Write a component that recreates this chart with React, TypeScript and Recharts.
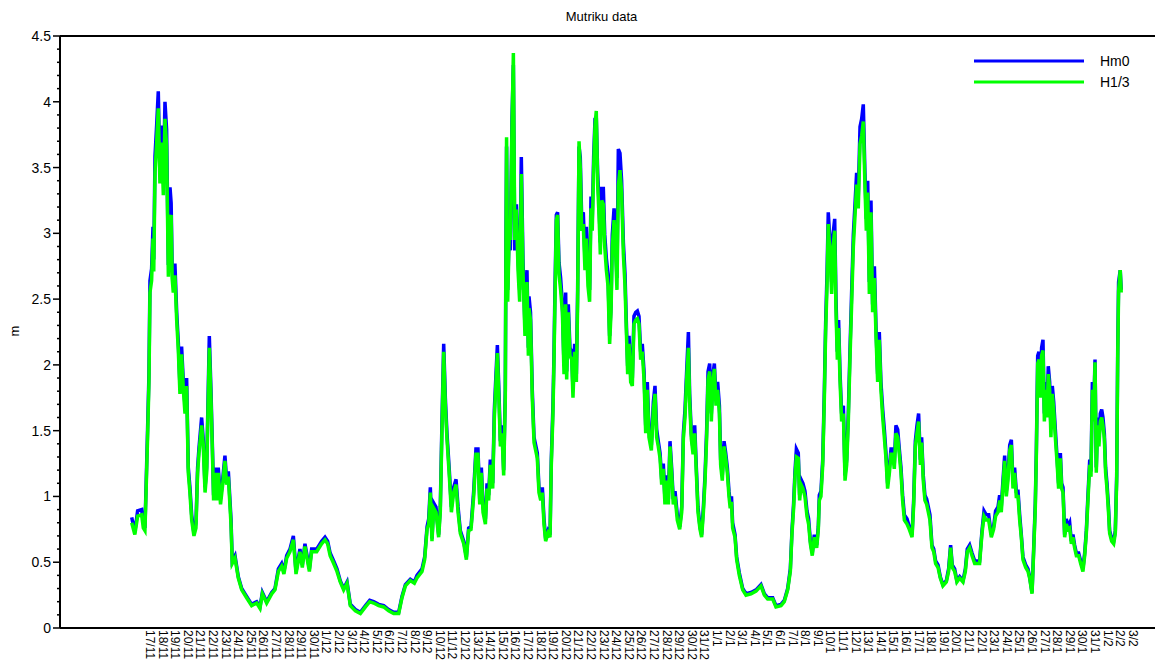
import React from 'react';
import { LineChart, Line, XAxis, YAxis, Legend, ReferenceLine } from 'recharts';

// Day labels (day index 0 = 17/11)
const DATE_LABELS = [
  '17/11', '18/11', '19/11', '20/11', '21/11', '22/11', '23/11', '24/11', '25/11', '26/11',
  '27/11', '28/11', '29/11', '30/11',
  '1/12', '2/12', '3/12', '4/12', '5/12', '6/12', '7/12', '8/12', '9/12', '10/12',
  '11/12', '12/12', '13/12', '14/12', '15/12', '16/12', '17/12', '18/12', '19/12', '20/12',
  '21/12', '22/12', '23/12', '24/12', '25/12', '26/12', '27/12', '28/12', '29/12', '30/12', '31/12',
  '1/1', '2/1', '3/1', '4/1', '5/1', '6/1', '7/1', '8/1', '9/1', '10/1',
  '11/1', '12/1', '13/1', '14/1', '15/1', '16/1', '17/1', '18/1', '19/1', '20/1',
  '21/1', '22/1', '23/1', '24/1', '25/1', '26/1', '27/1', '28/1', '29/1', '30/1', '31/1',
  '1/2', '2/2', '3/2',
];

// Sample times in days since 17/11 00:00
const TIME_DAYS = [
  -1.45, -1.2, -0.98, -0.66, -0.53, -0.4, -0.32, -0.19, -0.08, 0,
  0.13, 0.24, 0.3, 0.4, 0.53, 0.66, 0.79, 0.93, 1.06, 1.19,
  1.32, 1.46, 1.59, 1.68, 1.76, 1.85, 1.98, 2.12, 2.25, 2.38,
  2.51, 2.65, 2.78, 2.91, 3.04, 3.17, 3.31, 3.49, 3.65, 3.78,
  3.89, 4.1, 4.23, 4.37, 4.5, 4.71, 4.84, 4.95, 5.05, 5.16,
  5.29, 5.42, 5.6, 5.77, 5.95, 6.08, 6.22, 6.43, 6.53, 6.75,
  7.01, 7.28, 7.67, 8.07, 8.47, 8.73, 8.92, 9.26, 9.66, 9.92,
  10.19, 10.45, 10.63, 10.85, 11.11, 11.38, 11.59, 11.9, 12.09, 12.3,
  12.65, 12.83, 13.23, 13.62, 13.89, 14.1, 14.3, 14.58, 14.84, 15.1,
  15.37, 15.64, 15.9, 16.3, 16.7, 17.1, 17.44, 17.75, 18.15, 18.55,
  18.94, 19.34, 19.74, 20.0, 20.27, 20.66, 20.98, 21.19, 21.59, 21.8,
  21.99, 22.12, 22.25, 22.38, 22.52, 22.7, 22.91, 23.04, 23.18, 23.31,
  23.44, 23.57, 23.76, 23.92, 24.1, 24.29, 24.45, 24.63, 24.9, 25.11,
  25.29, 25.48, 25.69, 25.87, 26.03, 26.17, 26.3, 26.43, 26.62, 26.75,
  26.88, 27.01, 27.2, 27.33, 27.46, 27.57, 27.7, 27.81, 27.94, 28.07,
  28.2, 28.25, 28.3, 28.39, 28.52, 28.6, 28.73, 28.84, 28.95, 29.08,
  29.21, 29.34, 29.47, 29.6, 29.76, 29.92, 30.03, 30.08, 30.2, 30.34,
  30.48, 30.61, 30.74, 30.87, 31.01, 31.14, 31.27, 31.4, 31.59, 31.75,
  31.85, 31.98, 32.06, 32.14, 32.25, 32.35, 32.46, 32.59, 32.73, 32.86,
  32.99, 33.07, 33.2, 33.33, 33.47, 33.57, 33.7, 33.84, 33.94, 34.05,
  34.15, 34.26, 34.39, 34.52, 34.63, 34.76, 34.89, 35.0, 35.1, 35.21,
  35.32, 35.42, 35.53, 35.64, 35.74, 35.85, 35.98, 36.09, 36.22, 36.35,
  36.48, 36.59, 36.69, 36.83, 36.96, 37.06, 37.17, 37.3, 37.43, 37.57,
  37.7, 37.8, 37.91, 38.02, 38.15, 38.28, 38.41, 38.55, 38.68, 38.81,
  38.94, 39.07, 39.21, 39.34, 39.47, 39.6, 39.79, 39.95, 40.08, 40.21,
  40.34, 40.48, 40.61, 40.74, 40.87, 41.0, 41.14, 41.27, 41.4, 41.53,
  41.67, 41.85, 42.04, 42.2, 42.33, 42.46, 42.59, 42.73, 42.83, 42.96,
  43.1, 43.23, 43.36, 43.49, 43.65, 43.78, 43.92, 44.05, 44.18, 44.29,
  44.42, 44.55, 44.68, 44.79, 44.92, 45.05, 45.19, 45.29, 45.42, 45.56,
  45.69, 45.82, 45.95, 46.05, 46.15, 46.24, 46.43, 46.56, 46.77, 47.04,
  47.3, 47.7, 48.1, 48.49, 48.76, 49.02, 49.42, 49.68, 50.08, 50.34,
  50.61, 50.82, 50.95, 51.08, 51.19, 51.3, 51.45, 51.56, 51.67, 51.82,
  51.98, 52.14, 52.27, 52.41, 52.56, 52.72, 52.91, 53.04, 53.12, 53.25,
  53.39, 53.52, 53.62, 53.73, 53.83, 53.97, 54.1, 54.21, 54.34, 54.44,
  54.55, 54.65, 54.76, 54.89, 55.03, 55.16, 55.29, 55.42, 55.55, 55.69,
  55.82, 55.95, 56.08, 56.21, 56.35, 56.48, 56.61, 56.74, 56.85, 56.96,
  57.09, 57.22, 57.35, 57.49, 57.62, 57.75, 57.88, 58.01, 58.15, 58.28,
  58.41, 58.54, 58.68, 58.81, 58.94, 59.07, 59.2, 59.34, 59.47, 59.6,
  59.73, 59.87, 60.08, 60.26, 60.48, 60.61, 60.74, 60.87, 61.0, 61.14,
  61.24, 61.37, 61.5, 61.64, 61.77, 61.9, 62.06, 62.2, 62.35, 62.54,
  62.72, 62.93, 63.2, 63.38, 63.54, 63.67, 63.86, 64.04, 64.26, 64.52,
  64.71, 64.86, 65.05, 65.24, 65.45, 65.66, 65.84, 66.03, 66.19, 66.37,
  66.56, 66.77, 66.95, 67.11, 67.3, 67.43, 67.56, 67.7, 67.83, 67.96,
  68.09, 68.23, 68.36, 68.49, 68.62, 68.75, 68.89, 69.02, 69.15, 69.28,
  69.5, 69.68, 69.81, 70.0, 70.13, 70.26, 70.34, 70.45, 70.55, 70.66,
  70.76, 70.87, 70.98, 71.08, 71.19, 71.29, 71.4, 71.5, 71.61, 71.72,
  71.85, 71.98, 72.11, 72.25, 72.35, 72.46, 72.59, 72.72, 72.85, 72.99,
  73.12, 73.25, 73.38, 73.52, 73.7, 73.86, 74.04, 74.18, 74.31, 74.44,
  74.58, 74.68, 74.79, 74.89, 75.0, 75.1, 75.21, 75.31, 75.42, 75.53,
  75.63, 75.74, 75.84, 75.95, 76.07, 76.16, 76.32, 76.48, 76.61, 76.72,
  76.8, 76.87, 77.0, 77.08,
];

// Hm0 (m)
const HM0 = [
  0.84, 0.73, 0.89, 0.90, 0.80, 0.76, 1.04, 1.51, 1.93, 2.64,
  2.73, 3.05, 2.80, 3.59, 3.82, 4.08, 3.47, 3.82, 3.38, 4.00,
  3.79, 2.76, 3.35, 3.23, 2.75, 2.64, 2.77, 2.40, 2.17, 1.84,
  2.14, 1.87, 1.69, 1.90, 1.22, 1.07, 0.86, 0.72, 0.80, 1.22,
  1.37, 1.60, 1.43, 1.07, 1.22, 2.22, 1.81, 1.40, 1.01, 1.22,
  1.01, 1.22, 0.98, 1.13, 1.31, 1.13, 1.19, 0.83, 0.51, 0.55,
  0.39, 0.30, 0.24, 0.18, 0.20, 0.16, 0.27, 0.20, 0.27, 0.30,
  0.45, 0.49, 0.43, 0.55, 0.60, 0.70, 0.43, 0.60, 0.48, 0.64,
  0.45, 0.60, 0.60, 0.66, 0.69, 0.66, 0.57, 0.51, 0.45, 0.36,
  0.30, 0.35, 0.18, 0.14, 0.12, 0.17, 0.21, 0.20, 0.18, 0.17,
  0.14, 0.12, 0.12, 0.24, 0.33, 0.37, 0.35, 0.40, 0.45, 0.54,
  0.77, 0.83, 1.07, 0.68, 0.95, 0.92, 0.71, 0.92, 1.60, 2.16,
  1.75, 1.48, 1.19, 0.92, 1.07, 1.13, 0.92, 0.74, 0.66, 0.54,
  0.76, 0.77, 1.04, 1.36, 1.36, 0.98, 1.22, 0.92, 0.83, 1.10,
  1.01, 1.28, 1.10, 1.66, 1.93, 2.15, 1.78, 1.42, 1.54, 1.20,
  1.81, 2.93, 3.66, 2.57, 3.08, 2.87, 3.87, 4.28, 2.87, 3.22,
  2.81, 2.57, 3.58, 2.81, 2.28, 2.72, 2.13, 2.52, 2.40, 1.81,
  1.45, 1.39, 1.33, 1.07, 1.01, 1.07, 0.83, 0.68, 0.74, 0.71,
  1.28, 1.69, 2.07, 2.57, 3.14, 3.16, 2.78, 2.66, 2.46, 1.99,
  2.55, 1.95, 2.46, 2.13, 2.10, 1.81, 2.16, 1.93, 2.57, 3.66,
  3.58, 3.11, 3.16, 2.81, 3.05, 2.69, 2.57, 3.28, 3.11, 3.58,
  3.87, 3.88, 3.46, 3.22, 2.93, 3.34, 3.34, 2.99, 2.81, 2.69,
  2.22, 2.46, 2.99, 3.19, 2.93, 2.66, 3.64, 3.61, 3.40, 2.93,
  2.69, 2.34, 1.99, 2.22, 1.93, 1.90, 2.37, 2.40, 2.41, 2.37,
  2.10, 2.16, 1.95, 1.54, 1.87, 1.51, 1.39, 1.72, 1.84, 1.51,
  1.42, 1.33, 1.13, 1.25, 0.98, 1.16, 0.98, 1.42, 1.22, 0.98,
  1.04, 0.86, 0.77, 0.92, 1.48, 1.66, 1.95, 2.25, 1.78, 1.48,
  1.36, 1.54, 1.22, 0.92, 0.77, 0.71, 0.92, 1.16, 1.51, 1.95,
  2.01, 1.63, 1.93, 2.01, 1.75, 1.87, 1.69, 1.28, 1.16, 1.42,
  1.33, 1.22, 1.04, 0.95, 1.00, 0.80, 0.71, 0.54, 0.42, 0.30,
  0.26, 0.27, 0.29, 0.33, 0.26, 0.23, 0.23, 0.17, 0.18, 0.21,
  0.30, 0.45, 0.74, 0.95, 1.19, 1.36, 1.33, 1.01, 1.13, 1.10,
  1.04, 0.89, 0.83, 0.66, 0.57, 0.71, 0.63, 0.77, 1.01, 1.04,
  1.28, 1.81, 2.31, 2.69, 3.16, 2.93, 2.63, 2.99, 3.11, 2.52,
  2.10, 2.34, 1.95, 1.63, 1.69, 1.16, 1.28, 1.63, 2.10, 2.57,
  2.99, 3.22, 3.46, 3.28, 3.81, 3.87, 3.98, 3.46, 3.11, 3.40,
  2.63, 3.25, 2.46, 2.75, 2.28, 1.93, 2.25, 1.87, 1.66, 1.51,
  1.33, 1.10, 1.22, 1.36, 1.36, 1.25, 1.54, 1.51, 1.36, 1.22,
  1.01, 0.86, 0.83, 0.77, 0.71, 0.98, 1.42, 1.54, 1.63, 1.28,
  1.45, 1.16, 1.01, 0.98, 0.92, 0.86, 0.63, 0.60, 0.51, 0.48,
  0.39, 0.33, 0.36, 0.45, 0.63, 0.48, 0.45, 0.36, 0.39, 0.36,
  0.45, 0.60, 0.63, 0.57, 0.51, 0.51, 0.51, 0.74, 0.89, 0.86,
  0.86, 0.71, 0.77, 0.89, 0.92, 1.01, 0.92, 1.13, 1.31, 1.04,
  1.16, 1.39, 1.43, 1.10, 1.22, 1.04, 1.04, 0.86, 0.71, 0.54,
  0.48, 0.45, 0.39, 0.27, 0.60, 0.95, 1.33, 2.07, 2.10, 1.81,
  2.13, 2.19, 1.63, 1.87, 1.66, 1.99, 1.87, 1.51, 1.84, 1.72,
  1.51, 1.31, 1.10, 1.33, 1.10, 1.07, 0.71, 0.83, 0.77, 0.80,
  0.66, 0.71, 0.63, 0.57, 0.57, 0.51, 0.45, 0.57, 0.74, 1.01,
  1.28, 1.19, 1.87, 1.63, 2.04, 1.22, 1.60, 1.42, 1.63, 1.66,
  1.60, 1.48, 1.22, 1.10, 0.92, 0.74, 0.68, 0.66, 0.74, 1.16,
  2.10, 2.63, 2.72, 2.57,
];

// H1/3 (m)
const H13 = [
  0.80, 0.71, 0.85, 0.86, 0.76, 0.74, 1.00, 1.45, 1.87, 2.55,
  2.64, 2.96, 2.71, 3.46, 3.69, 3.95, 3.38, 3.69, 3.29, 3.87,
  3.66, 2.67, 3.10, 3.14, 2.66, 2.55, 2.68, 2.34, 2.11, 1.78,
  2.08, 1.81, 1.63, 1.84, 1.18, 1.03, 0.82, 0.70, 0.76, 1.18,
  1.33, 1.54, 1.39, 1.03, 1.18, 2.13, 1.75, 1.36, 0.97, 1.18,
  0.97, 1.18, 0.94, 1.09, 1.27, 1.09, 1.15, 0.79, 0.49, 0.53,
  0.38, 0.29, 0.23, 0.17, 0.19, 0.15, 0.26, 0.19, 0.26, 0.29,
  0.43, 0.47, 0.41, 0.53, 0.58, 0.67, 0.41, 0.58, 0.46, 0.62,
  0.43, 0.58, 0.58, 0.64, 0.67, 0.64, 0.55, 0.49, 0.43, 0.35,
  0.29, 0.34, 0.17, 0.13, 0.11, 0.16, 0.20, 0.19, 0.17, 0.16,
  0.13, 0.11, 0.11, 0.23, 0.32, 0.36, 0.34, 0.38, 0.43, 0.52,
  0.75, 0.79, 1.03, 0.66, 0.91, 0.88, 0.69, 0.88, 1.54, 2.10,
  1.69, 1.44, 1.15, 0.88, 1.03, 1.09, 0.88, 0.72, 0.64, 0.52,
  0.74, 0.75, 1.00, 1.32, 1.32, 0.94, 1.18, 0.88, 0.79, 1.06,
  0.97, 1.24, 1.06, 1.60, 1.87, 2.09, 1.72, 1.38, 1.48, 1.16,
  1.75, 2.84, 3.73, 2.48, 3.05, 2.95, 3.80, 4.37, 2.95, 3.18,
  2.72, 2.48, 3.45, 2.72, 2.22, 2.63, 2.07, 2.43, 2.34, 1.75,
  1.41, 1.35, 1.29, 1.03, 0.97, 1.03, 0.79, 0.66, 0.72, 0.69,
  1.24, 1.63, 2.01, 2.48, 3.10, 3.14, 2.69, 2.57, 2.40, 1.93,
  2.46, 1.89, 2.40, 2.07, 2.04, 1.75, 2.10, 1.87, 2.48, 3.70,
  3.50, 3.02, 3.07, 2.72, 2.96, 2.60, 2.48, 3.19, 3.02, 3.50,
  3.82, 3.93, 3.37, 3.13, 2.84, 3.25, 3.22, 2.90, 2.72, 2.60,
  2.16, 2.40, 2.90, 3.10, 2.84, 2.57, 3.36, 3.48, 3.31, 2.84,
  2.60, 2.28, 1.93, 2.16, 1.87, 1.84, 2.31, 2.34, 2.35, 2.31,
  2.04, 2.10, 1.89, 1.48, 1.81, 1.45, 1.35, 1.66, 1.78, 1.45,
  1.38, 1.29, 1.09, 1.21, 0.94, 1.12, 0.94, 1.38, 1.18, 0.94,
  1.00, 0.82, 0.75, 0.88, 1.44, 1.60, 1.89, 2.13, 1.72, 1.44,
  1.32, 1.48, 1.18, 0.88, 0.75, 0.69, 0.88, 1.12, 1.45, 1.89,
  1.95, 1.57, 1.87, 1.97, 1.69, 1.81, 1.63, 1.24, 1.12, 1.38,
  1.29, 1.18, 1.00, 0.91, 0.96, 0.76, 0.69, 0.52, 0.40, 0.29,
  0.25, 0.26, 0.28, 0.32, 0.25, 0.22, 0.22, 0.16, 0.17, 0.20,
  0.29, 0.43, 0.72, 0.91, 1.15, 1.30, 1.29, 0.97, 1.09, 1.06,
  1.00, 0.85, 0.79, 0.64, 0.55, 0.69, 0.61, 0.75, 0.97, 1.00,
  1.24, 1.75, 2.25, 2.60, 3.07, 2.84, 2.54, 2.90, 3.02, 2.43,
  2.04, 2.28, 1.89, 1.57, 1.63, 1.12, 1.24, 1.57, 2.04, 2.48,
  2.90, 3.13, 3.37, 3.19, 3.68, 3.74, 3.85, 3.37, 3.02, 3.31,
  2.54, 3.16, 2.40, 2.66, 2.22, 1.87, 2.19, 1.81, 1.60, 1.45,
  1.29, 1.06, 1.18, 1.32, 1.32, 1.21, 1.48, 1.45, 1.32, 1.18,
  0.97, 0.82, 0.79, 0.75, 0.69, 0.94, 1.38, 1.48, 1.57, 1.24,
  1.41, 1.12, 0.97, 0.94, 0.88, 0.82, 0.61, 0.58, 0.49, 0.46,
  0.38, 0.32, 0.35, 0.43, 0.61, 0.46, 0.43, 0.35, 0.38, 0.35,
  0.43, 0.58, 0.61, 0.55, 0.49, 0.49, 0.49, 0.72, 0.85, 0.82,
  0.82, 0.69, 0.75, 0.85, 0.88, 0.97, 0.88, 1.09, 1.27, 1.00,
  1.12, 1.35, 1.39, 1.06, 1.18, 1.00, 1.00, 0.82, 0.69, 0.52,
  0.46, 0.43, 0.38, 0.26, 0.58, 0.91, 1.29, 2.01, 2.04, 1.75,
  2.07, 2.11, 1.57, 1.81, 1.60, 1.93, 1.81, 1.45, 1.78, 1.66,
  1.45, 1.27, 1.06, 1.29, 1.06, 1.03, 0.69, 0.79, 0.75, 0.76,
  0.64, 0.69, 0.61, 0.55, 0.55, 0.49, 0.43, 0.55, 0.72, 0.97,
  1.24, 1.15, 1.81, 1.57, 2.02, 1.18, 1.54, 1.38, 1.57, 1.60,
  1.54, 1.44, 1.18, 1.06, 0.88, 0.72, 0.66, 0.64, 0.72, 1.12,
  2.04, 2.56, 2.72, 2.55,
];

const Y_MAJOR_LABELS = ['0', '0.5', '1', '1.5', '2', '2.5', '3', '3.5', '4', '4.5'];
const TITLE = 'Mutriku data';
const Y_TITLE = 'm';

const W = 1155;
const H = 667;
const PLOT_LEFT = 60;
const PLOT_TOP = 36;
const PLOT_BOTTOM = 628;
const FONT = '"Liberation Sans", Arial, sans-serif';

const data = TIME_DAYS.map((t, i) => ({ t, hm0: HM0[i], h13: H13[i] }));
const xTicks = DATE_LABELS.map((_, i) => i);
const yTicks: number[] = [];
for (let k = 0; k <= 45; k++) yTicks.push(k / 10);

const XTick = (props: any) => {
  const { x, payload } = props;
  const label = DATE_LABELS[payload.value];
  return (
    <text
      transform={`translate(${x},${PLOT_BOTTOM + 2}) rotate(90)`}
      textAnchor="start"
      dominantBaseline="central"
      fontSize={12}
      fontFamily={FONT}
      fill="#000"
    >
      {label}
    </text>
  );
};

const YTick = (props: any) => {
  const { y, payload } = props;
  const k = Math.round(payload.value * 10);
  const major = k % 5 === 0;
  return (
    <g>
      <line
        x1={PLOT_LEFT - (major ? 7 : 3)}
        x2={PLOT_LEFT}
        y1={y}
        y2={y}
        stroke="#000"
        strokeWidth={1.5}
      />
      {major && (
        <text
          x={PLOT_LEFT - 9}
          y={y}
          textAnchor="end"
          dominantBaseline="central"
          fontSize={14}
          fontFamily={FONT}
          fill="#000"
        >
          {Y_MAJOR_LABELS[k / 5]}
        </text>
      )}
    </g>
  );
};

const LegendContent = () => (
  <svg width={180} height={42}>
    <line x1={0} x2={110} y1={9} y2={9} stroke="#0000ff" strokeWidth={3} />
    <text x={126} y={9} dominantBaseline="central" fontSize={14} fontFamily={FONT} fill="#000">
      Hm0
    </text>
    <line x1={0} x2={110} y1={30} y2={30} stroke="#00ff00" strokeWidth={3} />
    <text x={126} y={30} dominantBaseline="central" fontSize={14} fontFamily={FONT} fill="#000">
      H1/3
    </text>
  </svg>
);

export default function App() {
  return (
    <div
      style={{
        position: 'absolute',
        left: 0,
        top: 0,
        width: W,
        height: H,
        background: '#fff',
        fontFamily: FONT,
      }}
    >
      <div
        style={{
          position: 'absolute',
          left: PLOT_LEFT - 6,
          width: W - PLOT_LEFT,
          top: 9,
          textAlign: 'center',
          fontSize: 13,
          lineHeight: '16px',
          color: '#000',
        }}
      >
        {TITLE}
      </div>
      <div
        style={{
          position: 'absolute',
          left: 4,
          top: 321,
          width: 20,
          height: 20,
          display: 'flex',
          alignItems: 'center',
          justifyContent: 'center',
          transform: 'rotate(-90deg)',
          fontSize: 13,
          color: '#000',
        }}
      >
        {Y_TITLE}
      </div>
      <LineChart
        width={W}
        height={H}
        data={data}
        margin={{ top: PLOT_TOP, right: 0, bottom: 0, left: 0 }}
      >
        <XAxis
          type="number"
          dataKey="t"
          domain={[-7.14, 79.76]}
          allowDataOverflow
          ticks={xTicks}
          interval={0}
          height={H - PLOT_BOTTOM}
          tickLine={false}
          tick={(p: any) => <XTick {...p} />}
          axisLine={{ stroke: '#000', strokeWidth: 2 }}
        />
        <YAxis
          type="number"
          domain={[0, 4.5]}
          ticks={yTicks}
          interval={0}
          width={PLOT_LEFT}
          tickLine={false}
          tick={(p: any) => <YTick {...p} />}
          axisLine={{ stroke: '#000', strokeWidth: 2 }}
        />
        <ReferenceLine y={4.5} stroke="#000" strokeWidth={2} />
        <Legend
          layout="horizontal"
          verticalAlign="middle"
          align="center"
          content={() => <LegendContent />}
          wrapperStyle={{ position: 'absolute', left: 974, top: 52, width: 180, height: 42 }}
        />
        <Line
          type="linear"
          dataKey="hm0"
          name="Hm0"
          stroke="#0000ff"
          strokeWidth={3.5}
          dot={false}
          activeDot={false}
          isAnimationActive={false}
        />
        <Line
          type="linear"
          dataKey="h13"
          name="H1/3"
          stroke="#00ff00"
          strokeWidth={3.5}
          dot={false}
          activeDot={false}
          isAnimationActive={false}
        />
      </LineChart>
    </div>
  );
}
